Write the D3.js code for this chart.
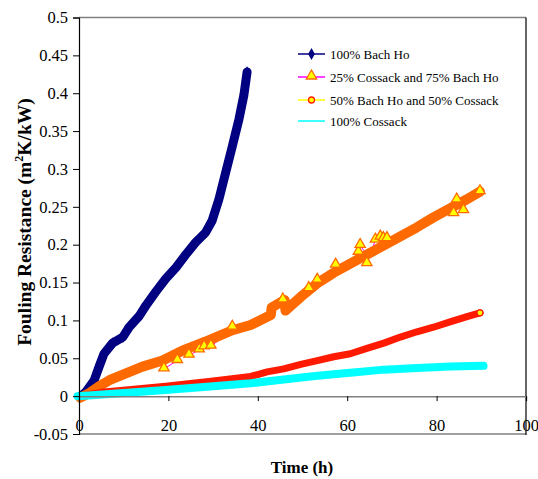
<!DOCTYPE html>
<html>
<head>
<meta charset="utf-8">
<script src="https://cdn.jsdelivr.net/npm/d3@7"></script>
<style>
  body { margin: 0; background: #fff; }
</style>
</head>
<body>
<script>
// Chart data: [time (h), fouling resistance (m2K/kW)]
const xTicks = [0, 20, 40, 60, 80, 100];
const yTicks = [-0.05, 0, 0.05, 0.1, 0.15, 0.2, 0.25, 0.3, 0.35, 0.4, 0.45, 0.5];

const seriesNames = ["100% Bach Ho", "25% Cossack and 75% Bach Ho",
                     "50% Bach Ho and 50% Cossack", "100% Cossack"];

const bachHo = [[0.5, 0.0], [1.6, 0.006], [3.4, 0.021], [4.5, 0.039], [5.6, 0.056],
  [7.5, 0.070], [9.8, 0.078], [11.2, 0.091], [13.5, 0.106], [15.0, 0.120],
  [17.2, 0.138], [19.4, 0.155], [21.7, 0.170], [23.9, 0.187], [26.1, 0.203],
  [28.3, 0.216], [29.8, 0.232], [31.3, 0.260], [32.8, 0.295], [34.3, 0.330],
  [35.8, 0.366], [36.9, 0.398], [37.6, 0.428]];

const cossack25 = [[0.3, -0.002], [2.3, 0.004], [4.5, 0.013], [6.8, 0.021], [10.5, 0.030],
  [14.2, 0.039], [18.7, 0.047], [23.1, 0.060], [29.1, 0.074], [34.3, 0.087],
  [38.4, 0.094], [42.9, 0.107], [43.1, 0.117], [46.0, 0.127], [46.2, 0.113],
  [49.6, 0.131], [53.3, 0.149], [57.0, 0.163], [60.7, 0.175], [64.4, 0.187],
  [68.2, 0.199], [71.9, 0.211], [75.6, 0.223], [79.3, 0.236], [83.0, 0.248],
  [86.8, 0.260], [89.7, 0.270]];

// the triangles that stick out of the orange band
const cossack25Scatter = [[19.0, 0.036], [22.0, 0.047], [24.6, 0.054], [26.9, 0.061],
  [28.0, 0.065], [29.5, 0.066], [34.3, 0.091], [45.6, 0.127], [51.4, 0.142],
  [53.3, 0.153], [57.4, 0.173], [62.5, 0.190], [62.9, 0.199], [64.4, 0.175],
  [66.3, 0.206], [67.4, 0.210], [68.1, 0.208], [68.9, 0.208], [83.8, 0.241],
  [84.5, 0.259], [86.0, 0.245], [89.7, 0.270]];

const bachHo50 = [[0, 0.0], [5, 0.005], [10.5, 0.008], [19.4, 0.013], [30, 0.020],
  [38.4, 0.026], [42.1, 0.032], [45.8, 0.036], [49.6, 0.042], [53.3, 0.047],
  [57.0, 0.052], [60.7, 0.056], [64.4, 0.063], [68.2, 0.070], [71.9, 0.078],
  [75.6, 0.085], [79.3, 0.091], [83.0, 0.098], [86.8, 0.105], [89.7, 0.110]];

const cossack100 = [[-0.3, 0.0], [10, 0.004], [19.4, 0.008], [30, 0.013], [38.4, 0.017],
  [45.8, 0.022], [53.3, 0.027], [60.7, 0.031], [68.2, 0.035], [75.6, 0.037],
  [83.0, 0.039], [90.5, 0.040]];

const width = 538, height = 479;
const serif = "'Liberation Serif', 'Times New Roman', serif";

const svg = d3.select("body").append("svg")
  .attr("width", width)
  .attr("height", height);

const x = d3.scaleLinear().domain([0, 100]).range([79, 526]);
const y = d3.scaleLinear().domain([-0.05, 0.5]).range([434, 17.5]);

// frame
svg.append("line").attr("x1", x(0)).attr("x2", x(100)).attr("y1", y(0.5)).attr("y2", y(0.5))
  .attr("stroke", "#808080").attr("stroke-width", 1.5);
svg.append("line").attr("x1", x(0)).attr("x2", x(100)).attr("y1", y(-0.05)).attr("y2", y(-0.05))
  .attr("stroke", "#808080").attr("stroke-width", 1.5);
svg.append("line").attr("x1", x(100)).attr("x2", x(100)).attr("y1", y(0.5)).attr("y2", y(-0.05) + 1)
  .attr("stroke", "#000").attr("stroke-width", 1.2);

const line = d3.line().x(d => x(d[0])).y(d => y(d[1])).curve(d3.curveLinear);

// marker shapes
const diamond = d3.symbol().type(d3.symbolDiamond).size(40);
const triangle = d3.symbol().type(d3.symbolTriangle).size(46);
const cross = d3.symbol().type(d3.symbolX).size(34);

function band(data, color, w) {
  svg.append("path")
    .attr("d", line(data))
    .attr("fill", "none")
    .attr("stroke", color)
    .attr("stroke-width", w)
    .attr("stroke-linejoin", "round")
    .attr("stroke-linecap", "round");
}

// 100% Bach Ho
band(bachHo, "#000080", 9);
svg.append("g").selectAll("path").data(bachHo).join("path")
  .attr("transform", d => `translate(${x(d[0])},${y(d[1])})`)
  .attr("d", diamond).attr("fill", "#000080");

// 25% Cossack and 75% Bach Ho
const merged = cossack25.concat(cossack25Scatter).sort((a, b) => a[0] - b[0]);
svg.append("path").attr("d", line(merged)).attr("fill", "none")
  .attr("stroke", "#ff00ff").attr("stroke-width", 1);
band(cossack25, "#ff6a00", 10);
svg.append("g").selectAll("path").data(cossack25Scatter).join("path")
  .attr("transform", d => `translate(${x(d[0])},${y(d[1]) - 1})`)
  .attr("d", triangle).attr("fill", "#ffff00").attr("stroke", "#ff6a00").attr("stroke-width", 1.3);

// 50% Bach Ho and 50% Cossack
band(bachHo50, "#ff1a00", 7);
svg.append("g").selectAll("circle").data(bachHo50.slice(-1)).join("circle")
  .attr("cx", d => x(d[0])).attr("cy", d => y(d[1])).attr("r", 3)
  .attr("fill", "#ffff00").attr("stroke", "#ff1a00").attr("stroke-width", 1.3);

// 100% Cossack
band(cossack100, "#00ffff", 8);
svg.append("g").selectAll("path").data([cossack100[0], cossack100[cossack100.length - 1]]).join("path")
  .attr("transform", d => `translate(${x(d[0])},${y(d[1])})`)
  .attr("d", cross).attr("fill", "#00ffff");

// x axis sits on the zero line, labels down at the bottom
const xAxis = svg.append("g")
  .attr("transform", `translate(0,${y(0)})`)
  .call(d3.axisBottom(x).tickValues(xTicks).tickSize(5).tickPadding(18).tickFormat(d => String(d)));
xAxis.select(".domain").attr("stroke", "#808080").attr("stroke-width", 1.5);
xAxis.selectAll(".tick line").attr("stroke", "#000");
xAxis.selectAll("text").style("font-size", "16.5px").style("font-family", serif).attr("fill", "#000");

const yAxis = svg.append("g")
  .attr("transform", `translate(${x(0)},0)`)
  .call(d3.axisLeft(y).tickValues(yTicks).tickSize(6).tickPadding(5)
    .tickFormat(d => String(+d.toFixed(2))));
yAxis.select(".domain").attr("stroke", "#000").attr("stroke-width", 1.2);
yAxis.selectAll("text").style("font-size", "16.5px").style("font-family", serif).attr("fill", "#000");

// axis titles
svg.append("text")
  .attr("x", 302).attr("y", 473)
  .attr("text-anchor", "middle")
  .style("font-family", serif).style("font-size", "17px").style("font-weight", "bold")
  .text("Time (h)");

const yTitle = svg.append("text")
  .attr("transform", "translate(31,222) rotate(-90)")
  .attr("text-anchor", "middle")
  .style("font-family", serif).style("font-size", "19.5px").style("font-weight", "bold");
yTitle.append("tspan").text("Fouling Resistance (m");
yTitle.append("tspan").attr("dy", -8).style("font-size", "12px").text("2");
yTitle.append("tspan").attr("dy", 8).text("K/kW)");

// legend
const legendY = [54, 77, 100, 121];
const lineColors = ["#000080", "#ff00ff", "#ffff00", "#00ffff"];
const legend = svg.append("g");
seriesNames.forEach((name, i) => {
  const g = legend.append("g").attr("transform", `translate(0,${legendY[i]})`);
  g.append("line").attr("x1", 298).attr("x2", 325).attr("y1", 0).attr("y2", 0)
    .attr("stroke", lineColors[i]).attr("stroke-width", 1.5);
  if (i === 0) {
    g.append("path").attr("transform", "translate(311.5,0)").attr("d", diamond).attr("fill", "#000080");
  } else if (i === 1) {
    g.append("path").attr("transform", "translate(311.5,-1)").attr("d", triangle)
      .attr("fill", "#ffff00").attr("stroke", "#ff6a00").attr("stroke-width", 1.3);
  } else if (i === 2) {
    g.append("circle").attr("cx", 311.5).attr("cy", 0).attr("r", 3)
      .attr("fill", "#ffff00").attr("stroke", "#ff1a00").attr("stroke-width", 1.3);
  } else {
    g.append("path").attr("transform", "translate(311.5,0)").attr("d", cross).attr("fill", "#00ffff");
  }
  g.append("text").attr("x", 330).attr("y", 4.5)
    .style("font-family", serif).style("font-size", "13px").text(name);
});
</script>
</body>
</html>
